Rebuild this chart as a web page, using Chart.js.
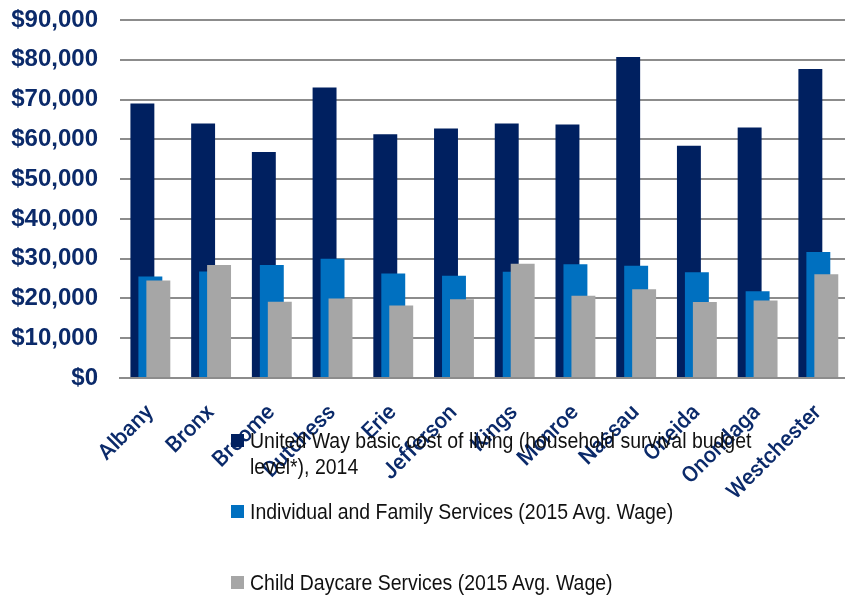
<!DOCTYPE html>
<html>
<head>
<meta charset="utf-8">
<script src="https://cdn.jsdelivr.net/npm/chart.js@4"></script>
<style>
  html, body { margin: 0; padding: 0; background: #fff; overflow: hidden; }
  #wrap { position: relative; width: 851px; height: 595px; }
  .leg { position: absolute; left: 231px; font-family: "Liberation Sans", Arial, sans-serif;
         font-size: 22px; color: #111; line-height: 26px; white-space: nowrap; }
  .leg .box { position: absolute; left: 0; width: 13px; height: 13px; }
  .leg .txt { position: absolute; left: 19px; transform: scaleX(0.885); transform-origin: 0 0; }
</style>
</head>
<body>
<div id="wrap">
  <canvas id="chart" width="851" height="595"></canvas>
  <div class="leg" style="top:428px">
    <div class="box" style="top:6px;background:#002060"></div>
    <div class="txt">United Way basic cost of living (household survival budget<br>level*), 2014</div>
  </div>
  <div class="leg" style="top:499px">
    <div class="box" style="top:6px;background:#0070C0"></div>
    <div class="txt">Individual and Family Services (2015 Avg. Wage)</div>
  </div>
  <div class="leg" style="top:570px">
    <div class="box" style="top:6px;background:#A6A6A6"></div>
    <div class="txt">Child Daycare Services (2015 Avg. Wage)</div>
  </div>
</div>
<script>
// counties
let counties = ["Albany", "Bronx", "Broome", "Dutchess", "Erie", "Jefferson",
    "Kings", "Monroe", "Nassau", "Oneida", "Onondaga", "Westchester"];

// series values
let costOfLiving = [69000, 64000, 56800, 73000, 61300, 62700, 64000, 63700, 80700, 58400, 63000, 77700];
let familyServices = [25500, 26800, 28400, 30000, 26300, 25700, 26700, 28600, 28200, 26600, 21800, 31700];
let daycare = [24500, 28400, 19200, 20000, 18200, 19800, 28700, 20700, 22300, 19100, 19500, 26100];

let yTicks = [0, 10000, 20000, 30000, 40000, 50000, 60000, 70000, 80000, 90000];

const navy = "#0B2A6A";

function money(v) {
    return "$" + Number(v).toLocaleString("en-US");
}

// draw datasets first to last so the grey bar sits on top of the others
const drawInOrder = {
    id: "drawInOrder",
    beforeDatasetsDraw(chart) {
        const area = chart.chartArea;
        const c = chart.ctx;
        c.save();
        c.beginPath();
        c.rect(area.left, area.top - 2, area.right - area.left, area.bottom - area.top + 2);
        c.clip();
        for (let i = 0; i < chart.data.datasets.length; i++) {
            chart.getDatasetMeta(i).controller.draw();
        }
        c.restore();
        return false;
    }
};

const ctx = document.getElementById("chart").getContext("2d");

new Chart(ctx, {
    type: "bar",
    data: {
        labels: counties,
        datasets: [
            { label: "United Way basic cost of living (household survival budget level*), 2014",
              data: costOfLiving, backgroundColor: "#002060" },
            { label: "Individual and Family Services (2015 Avg. Wage)",
              data: familyServices, backgroundColor: "#0070C0" },
            { label: "Child Daycare Services (2015 Avg. Wage)",
              data: daycare, backgroundColor: "#A6A6A6" }
        ]
    },
    plugins: [drawInOrder],
    options: {
        responsive: false,
        animation: false,
        layout: { padding: { top: 20, right: 0, left: 0, bottom: 0 } },
        datasets: {
            bar: { categoryPercentage: 0.394, barPercentage: 3 }
        },
        plugins: {
            legend: { display: false },
            tooltip: { enabled: false }
        },
        scales: {
            x: {
                grid: { display: false },
                border: { display: true, color: "#8C8C8C", width: 2 },
                ticks: {
                    autoSkip: false,
                    minRotation: 45,
                    maxRotation: 45,
                    padding: 14,
                    color: navy,
                    font: { family: "Roboto, 'Liberation Sans', sans-serif", size: 22, weight: "500" }
                },
                afterFit: (scale) => { scale.height = 217; }
            },
            y: {
                min: 0,
                max: 90000,
                afterBuildTicks: (scale) => { scale.ticks = yTicks.map(v => ({ value: v })); },
                grid: { color: "#8C8C8C", lineWidth: 2, drawTicks: false },
                border: { display: false },
                ticks: {
                    padding: 22,
                    color: navy,
                    font: { family: "'Liberation Sans', Arial, sans-serif", size: 24, weight: "bold" },
                    callback: (v) => money(v)
                },
                afterFit: (scale) => {
                    scale.width = 120;
                    scale.paddingTop = 0;
                    scale.paddingBottom = 0;
                }
            }
        }
    }
});
</script>
</body>
</html>
